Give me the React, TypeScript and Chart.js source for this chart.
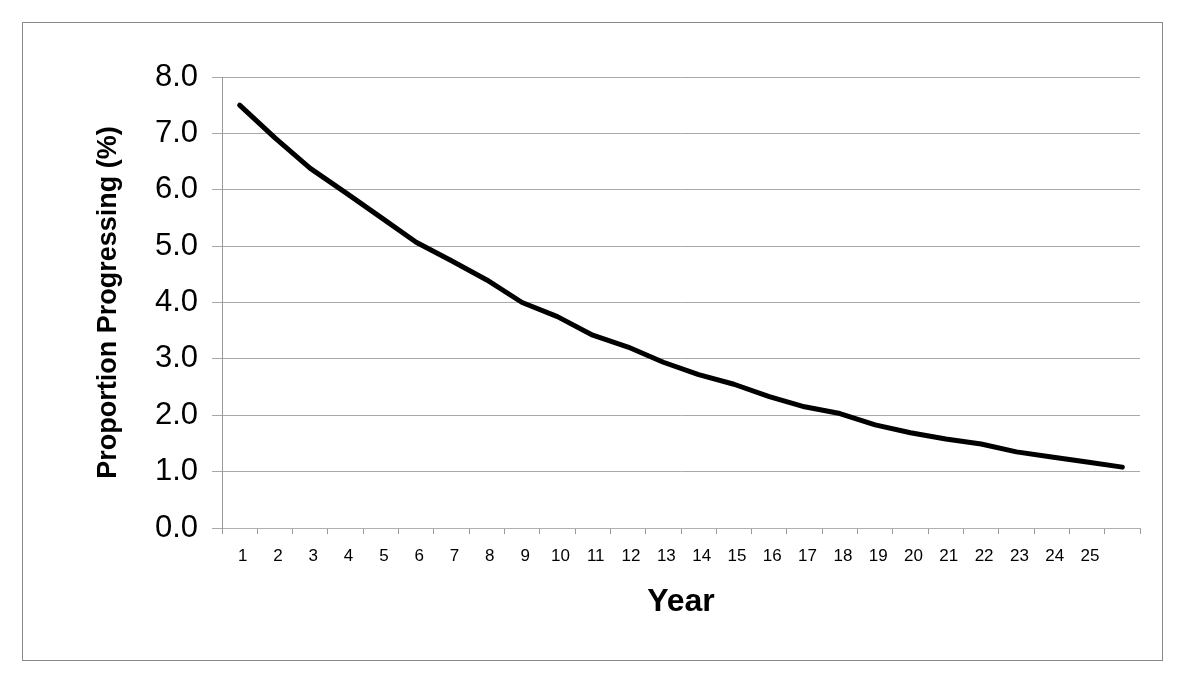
import React, { useEffect, useRef } from "react";
import { Chart, registerables } from "chart.js";

Chart.register(...registerables);

const years: string[] = [
  "1", "2", "3", "4", "5", "6", "7", "8", "9", "10", "11", "12", "13",
  "14", "15", "16", "17", "18", "19", "20", "21", "22", "23", "24", "25", "",
];

const proportion: number[] = [
  7.5, 6.92, 6.38, 5.95, 5.51, 5.07, 4.74, 4.4, 4.0, 3.75, 3.42, 3.21, 2.94,
  2.72, 2.55, 2.33, 2.15, 2.03, 1.83, 1.69, 1.58, 1.49, 1.35, 1.26, 1.17, 1.08,
];

const yTicks: number[] = [0, 1, 2, 3, 4, 5, 6, 7, 8];

const FONT = "'Liberation Sans', Arial, Helvetica, sans-serif";

export default function App() {
  const ref = useRef<HTMLCanvasElement | null>(null);

  useEffect(() => {
    if (!ref.current) return;
    const chart = new Chart(ref.current, {
      type: "line",
      data: {
        labels: years,
        datasets: [
          {
            data: proportion,
            borderColor: "#000000",
            borderWidth: 5,
            pointRadius: 0,
            tension: 0,
            fill: false,
            borderCapStyle: "round",
            borderJoinStyle: "round",
          },
        ],
      },
      options: {
        animation: false,
        responsive: false,
        maintainAspectRatio: false,
        layout: { padding: { left: 92, right: 60, top: 77, bottom: 73 } },
        plugins: { legend: { display: false }, tooltip: { enabled: false } },
        scales: {
          x: {
            type: "category",
            offset: true,
            grid: {
              offset: true,
              drawOnChartArea: false,
              drawTicks: true,
              tickLength: 6,
              color: "#9a9a9a",
            },
            border: { display: true, color: "#b0b0b0", width: 1 },
            ticks: {
              color: "#000000",
              font: { family: FONT, size: 17 },
              padding: 12,
              labelOffset: 3,
              maxRotation: 0,
              autoSkip: false,
            },
            title: {
              display: true,
              text: "Year",
              color: "#000000",
              font: { family: FONT, size: 32, weight: "bold" },
              padding: 0,
            },
            afterFit: (s: any) => {
              s.height = 93;
            },
          },
          y: {
            min: 0,
            max: 8,
            afterBuildTicks: (s: any) => {
              s.ticks = yTicks.map((v) => ({ value: v }));
            },
            grid: {
              color: "#a8a8a8",
              lineWidth: 1,
              drawTicks: true,
              tickLength: 10,
            },
            border: { display: true, color: "#9a9a9a", width: 1 },
            ticks: {
              color: "#000000",
              font: { family: FONT, size: 31 },
              padding: 14,
              callback: (v: any) => Number(v).toFixed(1),
            },
            title: {
              display: true,
              text: "Proportion Progressing (%)",
              color: "#000000",
              font: { family: FONT, size: 27, weight: "bold" },
              padding: 0,
            },
            afterFit: (s: any) => {
              s.width = 130;
            },
          },
        },
      },
    });
    return () => chart.destroy();
  }, []);

  return (
    <div style={{ position: "absolute", left: 0, top: 0, width: 1200, height: 694, background: "#fff" }}>
      <div
        style={{
          position: "absolute",
          left: 22,
          top: 22,
          width: 1139,
          height: 637,
          border: "1px solid #8a8a8a",
        }}
      />
      <canvas ref={ref} width={1200} height={694} style={{ position: "absolute", left: 0, top: 0 }} />
    </div>
  );
}
